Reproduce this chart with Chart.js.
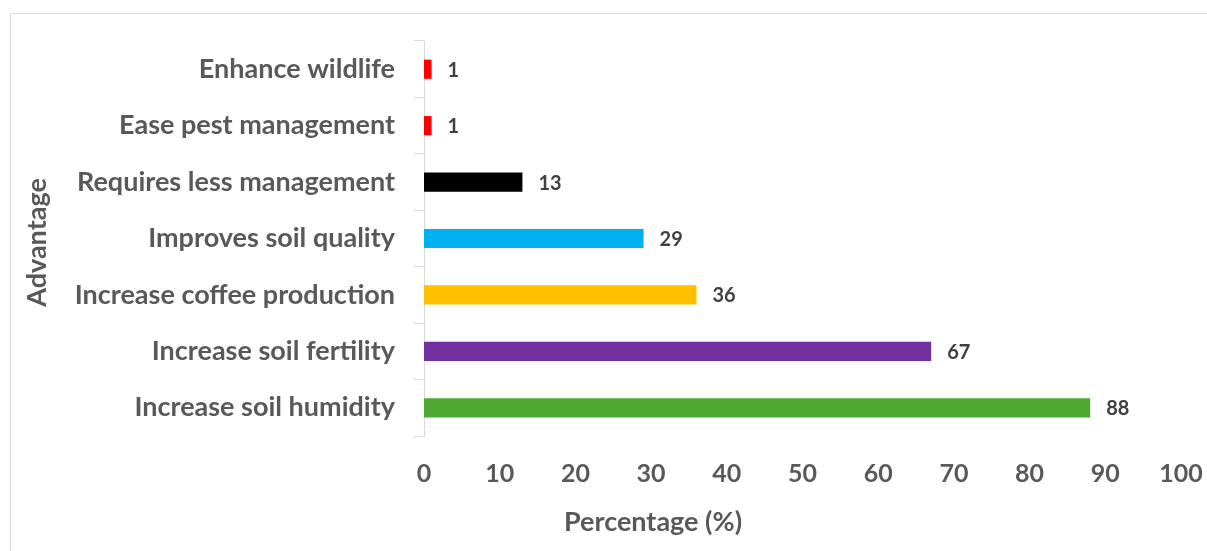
<!DOCTYPE html>
<html>
<head>
<meta charset="utf-8">
<script src="https://cdn.jsdelivr.net/npm/chart.js@4"></script>
<style>
  html, body { margin: 0; padding: 0; background: #fff; }
  #wrap { position: relative; width: 1207px; height: 551px; }
  #frame { position: absolute; left: 10px; top: 13px; right: -2px; bottom: -2px; border-top: 1px solid #d9d9d9; border-left: 1px solid #d9d9d9; }
  canvas { position: absolute; left: 0; top: 0; }
</style>
</head>
<body>
<div id="wrap">
  <div id="frame"></div>
  <canvas id="advChart" width="1207" height="551"></canvas>
</div>
<script>
// categories top to bottom
const advantages = [
    'Enhance wildlife',
    'Ease pest management',
    'Requires less management',
    'Improves soil quality',
    'Increase coffee production',
    'Increase soil fertility',
    'Increase soil humidity'
];
const percentages = [1, 1, 13, 29, 36, 67, 88];
const barColors = ['#ff0000', '#ff0000', '#000000', '#00b0f0', '#ffc000', '#7030a0', '#4fa832'];
const xTicks = [0, 10, 20, 30, 40, 50, 60, 70, 80, 90, 100];

const FONT = 'Lato, "Open Sans", sans-serif';
const GREY = '#595959';

// value labels at the end of each bar
const barValueLabels = {
    id: 'barValueLabels',
    afterDatasetsDraw(chart) {
        const ctx = chart.ctx;
        const meta = chart.getDatasetMeta(0);
        ctx.save();
        ctx.font = 'bold 20px ' + FONT;
        ctx.fillStyle = '#404040';
        ctx.textAlign = 'left';
        ctx.textBaseline = 'middle';
        meta.data.forEach((bar, i) => {
            ctx.fillText(String(percentages[i]), bar.x + 16, bar.y + 1);
        });
        ctx.restore();
    }
};

// axis titles placed like the original
const axisTitles = {
    id: 'axisTitles',
    afterDraw(chart) {
        const ctx = chart.ctx;
        const area = chart.chartArea;
        ctx.save();
        ctx.font = 'bold 27px ' + FONT;
        ctx.fillStyle = GREY;
        ctx.textAlign = 'center';
        ctx.textBaseline = 'middle';
        ctx.fillText('Percentage (%)', 653, 522);
        ctx.translate(37, (area.top + area.bottom) / 2 + 4);
        ctx.rotate(-Math.PI / 2);
        ctx.fillText('Advantage', 0, 0);
        ctx.restore();
    }
};

new Chart(document.getElementById('advChart'), {
    type: 'bar',
    data: {
        labels: advantages,
        datasets: [{
            data: percentages,
            backgroundColor: barColors,
            borderWidth: 0,
            categoryPercentage: 1,
            barPercentage: 0.34
        }]
    },
    options: {
        indexAxis: 'y',
        responsive: false,
        animation: false,
        layout: { padding: { left: 10, top: 41, right: 26, bottom: 0 } },
        plugins: {
            legend: { display: false },
            tooltip: { enabled: false }
        },
        scales: {
            x: {
                min: 0,
                max: 100,
                afterBuildTicks: scale => { scale.ticks = xTicks.map(v => ({ value: v })); },
                afterFit: scale => {
                    scale.height = 115;
                    scale.paddingLeft = 0;
                    scale.paddingRight = 0;
                },
                grid: { display: false },
                border: { display: false },
                ticks: {
                    color: GREY,
                    font: { family: FONT, size: 25, weight: 'bold' },
                    padding: 15,
                    maxRotation: 0
                }
            },
            y: {
                afterFit: scale => { scale.width = 414; },
                grid: {
                    drawOnChartArea: false,
                    drawTicks: true,
                    tickLength: 10,
                    color: '#d9d9d9',
                    offset: true
                },
                border: { display: true, color: '#d9d9d9', width: 1 },
                ticks: {
                    color: GREY,
                    font: { family: FONT, size: 27, weight: 'bold' },
                    padding: 19
                }
            }
        }
    },
    plugins: [barValueLabels, axisTitles]
});
</script>
</body>
</html>
